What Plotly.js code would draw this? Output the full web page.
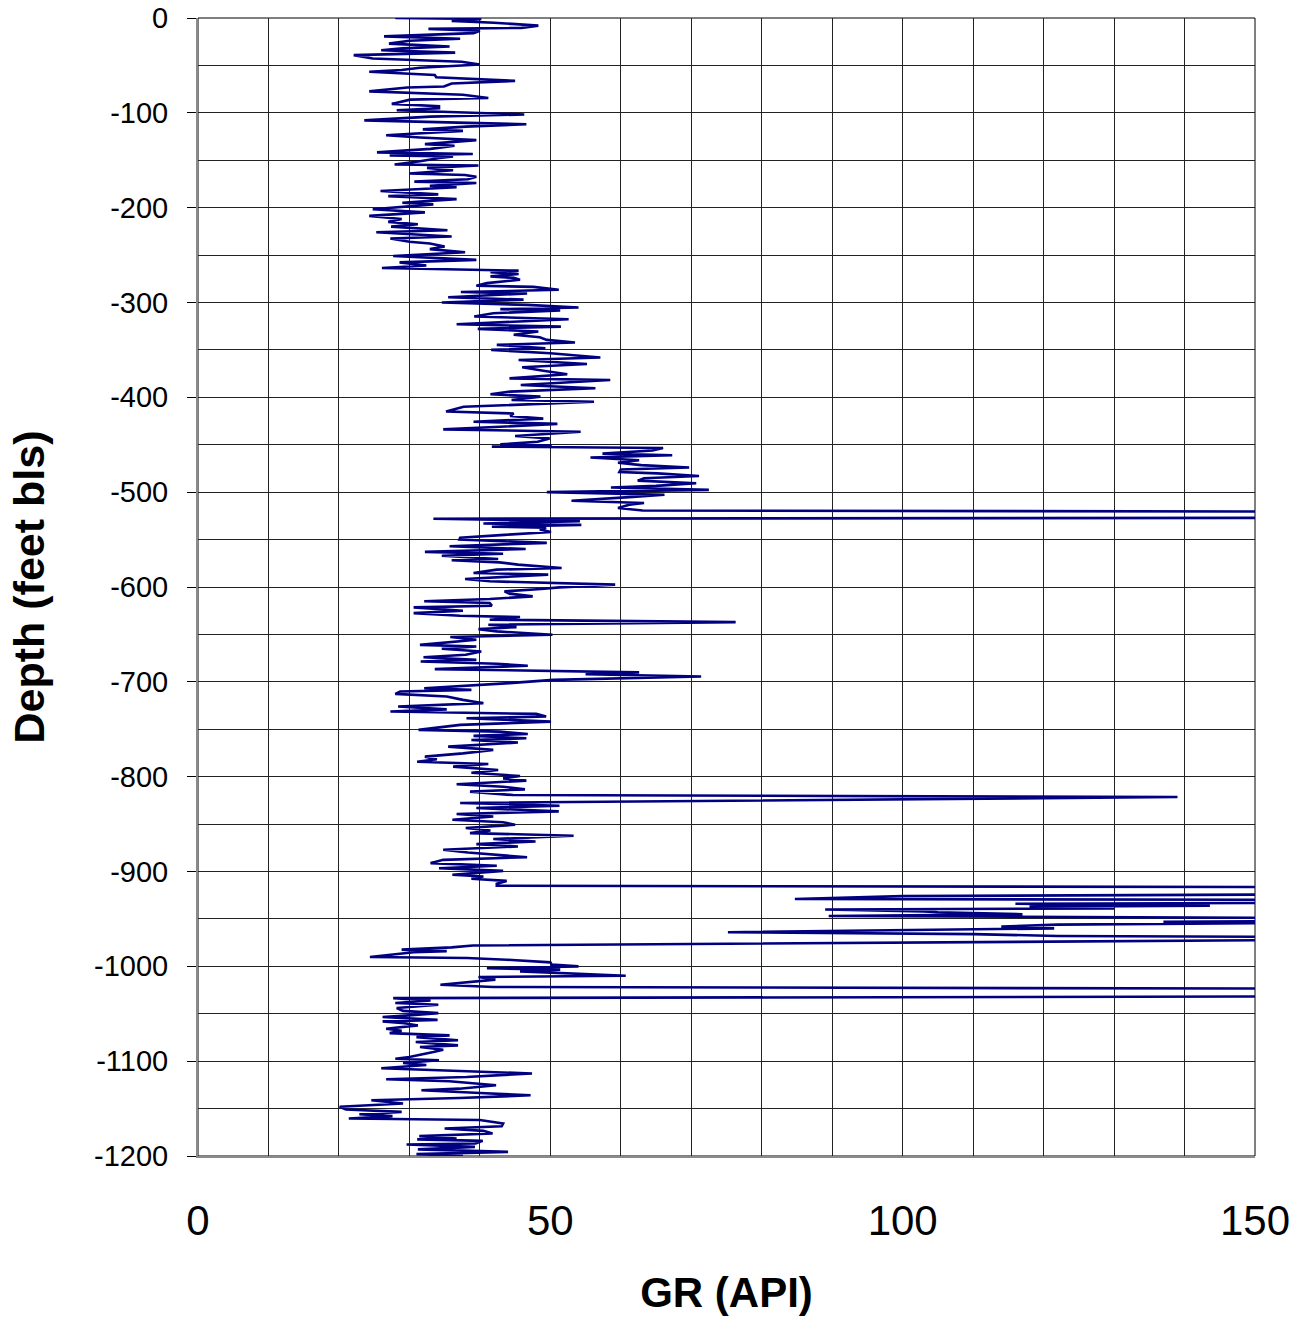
<!DOCTYPE html>
<html>
<head>
<meta charset="utf-8">
<script src="https://cdn.plot.ly/plotly-3.0.1.min.js"></script>
<style>html,body{margin:0;padding:0;background:#fff;}#chart{width:1306px;height:1321px;}</style>
</head>
<body>
<div id="chart"></div>
<script>
// Depth (feet bls) and GR (API) readings, top to bottom
const depth = [
0,-1,-3,-5,-8,-10.4,-11.5,-13.5,-16,-19.4,-21.9,-24,-27,-30,-32,-34,-36.5,-39.2,-42.7,-46.2,
-49,-52.4,-54.9,-56.6,-60,-62.5,-66.3,-69,-72.2,-73.3,-77.4,-80.9,-84.4,-86.1,-90.6,-93,-95.1,-97.2,-101.7,-104,
-108,-112,-114.5,-117.4,-119,-123.6,-126,-128.8,-133,-134.7,-138,-141.7,-143.4,-145,-146,-147.6,-151,-154.5,-155.5,-158,
-160.5,-164,-165.5,-167.5,-170,-172.5,-174,-177,-178.5,-182.5,-186,-187.8,-191,-194.8,-196.5,-201.7,-205,-208.7,-212,-215,
-217.5,-220,-223.8,-226,-230.4,-232.5,-236,-237.8,-241,-243.7,-247,-251,-255,-257.7,-261,-263.6,-266.4,-268,-270,-272.5,
-274,-276,-279.6,-282.4,-283.5,-286.6,-289,-290.5,-294.4,-297,-300,-302.5,-305.3,-307,-308.5,-311.3,-314.8,-317.6,-323,-325.4,
-327.8,-330.6,-334,-336.6,-339.4,-342.2,-344.7,-348.2,-350,-353.5,-358,-360.6,-364.8,-368.3,-372,-375.7,-380,-381.7,-387,-390.5,
-394,-396.8,-399.3,-402.8,-404.6,-410,-415,-417,-419.7,-422.5,-425.7,-428,-431,-433.8,-436.3,-440.8,-443.3,-446.8,-449.6,-450.8,
-452,-453.5,-456,-459.4,-461,-463.5,-466.3,-469,-471.5,-474,-476,-478.8,-480.2,-483,-485.4,-487.8,-490.6,-493.4,-495,-497.6,
-500,-502.8,-505.2,-509,-511.5,-513.2,-516.7,-519.4,-520.5,-527,-528,-530.6,-533,-534.5,-536.4,-537.5,-539.4,-542,-545,-548,
-550,-553.5,-557,-560,-563,-565,-567,-570.4,-571.8,-574,-576.4,-580,-581.7,-585.2,-587,-591.5,-594,-595.8,-597.5,-600.4,
-602.1,-604.6,-607,-609.9,-612.7,-615,-616.9,-619.7,-621.5,-625,-627.5,-630.3,-631.7,-634.5,-637,-639.8,-642.3,-644.4,-646.8,-650.4,
-652.8,-655.6,-657.4,-661,-662.7,-665.1,-668,-671.5,-674,-676.8,-678.5,-681,-683,-686.6,-690,-692,-694.4,-696,-697.9,-701.4,
-703.9,-706.7,-708.5,-710.2,-712.7,-715.5,-719,-722.5,-726,-729,-731.3,-733.8,-736.6,-738.4,-742,-745.4,-750.7,-752.5,-755,-757,
-759.5,-761.3,-764,-768.3,-771.8,-775.4,-778.9,-781.7,-784.2,-786.6,-789.4,-793,-795.8,-799.3,-801.8,-804.2,-808,-810.6,-813.4,-815.8,
-819.4,-821.5,-827.7,-830.6,-833,-836.6,-839.4,-842,-845.4,-848,-850.7,-854.2,-856.7,-859.5,-862.3,-865.8,-868.3,-871.1,-873.6,-877.1,
-880,-882.4,-884.9,-887.7,-891.2,-894,-896.5,-899.3,-903.5,-905.3,-907.7,-909.9,-913,-915,-916.5,-924,-926,-929,-930,-933,
-934,-936,-937,-939,-940,-942,-943,-945,-947,-949,-952,-953,-954,-956,-958,-960,-964,-966,-968,-969,
-972,-978,-980,-982.4,-984,-985.2,-990.1,-991.2,-993,-995.8,-998.2,-1000,-1002,-1003.5,-1005.3,-1009.9,-1011.3,-1014,-1017.6,-1019.4,
-1021.8,-1023.6,-1031.7,-1033.5,-1036,-1038.7,-1040.5,-1044,-1047,-1049.3,-1052,-1053.5,-1056.5,-1058,-1060,-1062.3,-1065.8,-1068,-1070.4,-1072.8,
-1074.6,-1078,-1079.8,-1083.3,-1085,-1088,-1090.4,-1095.6,-1097.4,-1099,-1102,-1104,-1107.5,-1110.7,-1113,-1116.7,-1119,-1121.2,-1125.4,-1129,
-1130.7,-1133.5,-1136,-1138.8,-1141.2,-1144.7,-1148,-1151,-1153.5,-1156,-1158,-1160.5,-1162,-1165.8,-1168.6,-1171,-1173.5,-1176.3,-1179,-1181.6,
-1182.5,-1184,-1186.8,-1187.8,-1190.4,-1193,-1195.6,-1198,-1200
];
const gr = [
28,40.2,36,42,48.3,45.9,32.7,40,39.1,26.4,37.2,30,27.1,35.7,29,26,36.5,22.1,24.8,37.4,
40,31.5,28.9,24.3,33.6,33.8,45,36,34.9,29.7,24.3,37.6,41.2,30.1,27.5,34.2,34.2,28.2,46.3,33,
23.6,46.6,38,31.9,37.6,26.7,31.5,39.5,32.2,36.4,33,25.4,39,27.2,36.2,34.3,31.5,27.9,39.8,32.5,
36.2,30,37.9,39.5,38.3,30.7,39.5,32.9,36.7,25.9,34.1,27,36.7,29,33.4,24.8,32.2,24.3,28.9,27,
31.2,27.4,35.4,25.3,36,27.3,30,32.9,35,32.9,37.9,27.7,39.5,28.6,32.4,26.1,45.5,41.5,45.5,41.5,
44.8,45.7,41,39.5,47.6,51.2,37.3,46.7,35.5,46.2,34.6,46.7,54,42.9,51.4,41.9,39.2,52.6,36.7,51.5,
39.7,48.3,44.8,48.5,49.5,53.5,42.4,49.3,41.6,50,57.1,45.5,55.2,46,49,52.4,44.2,58.5,45.8,56.4,
44.3,41.5,48.6,44.5,56.2,37.7,35.2,44.8,44.3,49,39.1,51,42.9,34.8,54.3,45,49.9,48.2,42.9,50.2,
41.7,66,64.5,57.4,67.3,55.7,62.6,59.6,62.9,69.7,60,59.8,65.2,71.1,63.3,62.4,70.7,65,58.6,72.5,
49.5,66.2,61.2,53,63.3,61.2,59.6,63.1,160,160,33.4,54.2,40.5,54.4,41.7,49.4,48.5,50.1,43.5,37.2,
37.1,49.5,35.7,46.5,32.2,43.3,34.6,42.6,36,42.8,45.4,51.6,42.4,39.1,49.7,37.9,41.4,49.4,59.2,51.3,
48.7,43.5,44.2,47.5,41.4,32.1,41.4,41.7,30.6,37.6,30.6,37.2,45.7,41.4,76.3,41.2,45.2,39.8,42.4,50.3,
35.8,39.5,37,31.5,39.5,34.6,40.2,38,32,39.5,31.6,42.4,46.8,33.6,62.6,55,71.4,61.7,50.4,44.2,
38.8,32.1,38.8,28.7,28,35.3,37.6,40.5,28.4,35.3,27.3,48,49.4,38.1,50.1,37.2,31.3,42.8,46.8,39.1,
46.6,38.8,45.4,35.5,41.9,37.6,32.2,33.9,31.1,41.2,36.2,42.6,38.8,45.7,43.3,46.6,36.7,43.3,46.4,38.6,
44.7,139,37.2,51.3,39.5,51.2,36.7,41.9,36.1,43.3,45,38,41.5,38.6,53.3,41.9,47.9,39.5,45.4,34.8,
38.3,42.6,46.7,34.8,33,42.4,34.2,43.3,36.1,40.5,38.8,43.8,42.4,42.4,160,160,100,84.7,160,160,
116,143.6,118,130,89,103,105,117,89.5,160,160,137,160,122,114,121.5,75.2,110,122,160,
160,39,36,28.9,35.3,30.6,24.4,38.2,43.8,50,50.2,54,41,51.4,45.7,60.7,39.8,42.2,36.7,34.4,
41.9,160,160,27.7,33,28,34.1,28.2,29.1,34.1,29.4,26.2,34,26.2,29.3,31.2,26.7,28.9,27.2,35.7,
31,36.9,30.9,36.9,31.5,34.8,33.4,30,28,34.2,29.1,32.4,26,38.1,47.4,38.1,26.7,35.7,42.3,37.1,
31.7,40,47.2,37.1,24.6,29.1,20.1,21,28.9,22.9,27.6,21.4,40,43.3,43.1,35,40.5,41.8,31.4,36.7,
31.1,40.4,39.4,29.6,39.3,31.2,44,31,37.6,35
];
const xTickVals = [0, 50, 100, 150];
const xTickText = ['0', '50', '100', '150'];
const yTickVals = [0,-100,-200,-300,-400,-500,-600,-700,-800,-900,-1000,-1100,-1200];
const yTickText = ['0','-100','-200','-300','-400','-500','-600','-700','-800','-900','-1000','-1100','-1200'];

const FONT = '"Liberation Sans", Arial, Helvetica, sans-serif';
const trace = {
  x: gr, y: depth, type: 'scatter', mode: 'lines',
  line: {color: '#000080', width: 2.6},
  hoverinfo: 'x+y'
};
const layout = {
  width: 1306, height: 1321,
  margin: {l: 198, r: 51, t: 18, b: 165},
  paper_bgcolor: '#ffffff', plot_bgcolor: '#ffffff',
  font: {family: FONT, color: '#000'},
  showlegend: false,
  xaxis: {
    range: [0, 150], tickmode: 'array', tickvals: xTickVals, ticktext: xTickText,
    showgrid: true, gridcolor: '#222', gridwidth: 1,
    minor: {dtick: 10, tick0: 0, showgrid: true, gridcolor: '#222', gridwidth: 1, ticks: ''},
    ticks: '', tickfont: {size: 42, family: FONT, color: '#000'},
    ticklabelstandoff: 27,
    showline: true, linecolor: '#8a8a8a', linewidth: 2, zeroline: false,
    title: {text: '<b>GR (API)</b>', font: {size: 42, family: FONT, color: '#000'}, standoff: 34}
  },
  yaxis: {
    range: [-1200, 0], tickmode: 'array', tickvals: yTickVals, ticktext: yTickText,
    showgrid: true, gridcolor: '#222', gridwidth: 1,
    minor: {dtick: 50, tick0: 0, showgrid: true, gridcolor: '#222', gridwidth: 1, ticks: ''},
    ticks: 'outside', ticklen: 9, tickwidth: 1, tickcolor: '#000',
    tickfont: {size: 29, family: FONT, color: '#000'},
    ticklabelstandoff: 13,
    showline: true, linecolor: '#8a8a8a', linewidth: 2, zeroline: false,
    title: {text: '<b>Depth (feet bls)</b>', font: {size: 43, family: FONT, color: '#000'}, standoff: 36}
  },
  shapes: [{type: 'rect', xref: 'paper', yref: 'paper', x0: 0, x1: 1, y0: 0, y1: 1,
            line: {color: '#000', width: 1}, layer: 'below'}]
};
Plotly.newPlot('chart', [trace], layout, {displayModeBar: false, staticPlot: true});
</script>
</body>
</html>
